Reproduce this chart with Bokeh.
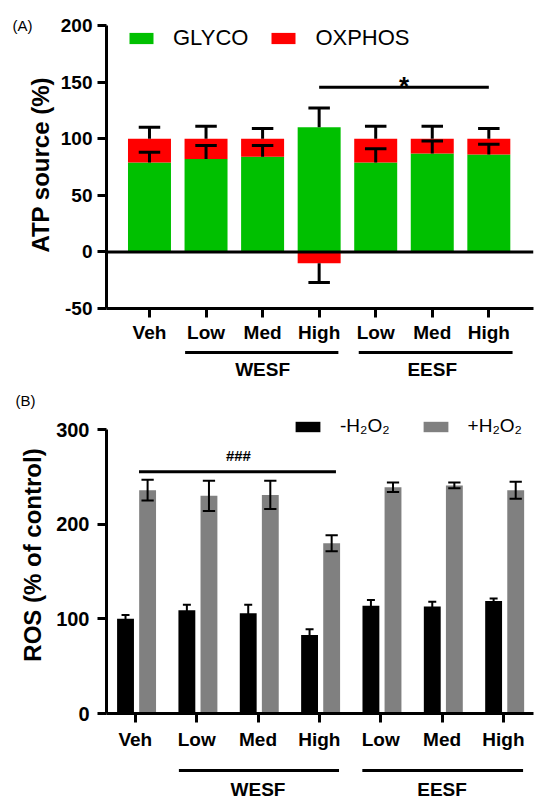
import numpy as np
from bokeh.plotting import figure
from bokeh.models import Range1d, FixedTicker, Span, Label, Legend, LegendItem, LinearAxis
from bokeh.core.properties import value
from bokeh.layouts import column
from bokeh.embed import file_html
from bokeh.resources import INLINE

# ---------------- data ----------------
categories = ["Veh", "Low", "Med", "High", "Low", "Med", "High"]
groups = ["WESF", "EESF"]
group_members = [(1, 3), (4, 6)]

glyco = [79, 82, 84, 110, 79, 87, 86]
glyco_err = [9, 12, 10, 17, 12, 11, 9]
oxphos = [21, 18, 16, -10, 21, 13, 14]
oxphos_err = [10, 11, 9, 17, 11, 11, 9]

ros_minus = [100, 109, 106, 83, 114, 113, 119]
ros_minus_err = [4, 6, 9, 6, 6, 5, 2.5]
ros_plus = [236, 230, 231, 180, 239, 241, 236]
ros_plus_err = [11, 16, 15, 8.5, 5, 3, 9]

yticks_a = [-50, 0, 50, 100, 150, 200]
yticks_b = [0, 100, 200, 300]

FONT = "Liberation Sans"
GREEN = "#00C000"
RED = "#FF0000"
GREY = "#808080"
W = 550


def style_axes(p, ylabel, yticks, tick_size, lab_standoff, ax_standoff, x_standoff):
    p.xaxis.ticker = FixedTicker(ticks=list(range(len(categories))))
    p.xaxis.major_label_overrides = {i: c for i, c in enumerate(categories)}
    p.yaxis.ticker = FixedTicker(ticks=yticks)
    p.yaxis.major_label_overrides = {t: str(t) for t in yticks}
    p.yaxis.axis_label = ylabel
    for ax in (p.xaxis[0], p.yaxis[0]):
        ax.axis_line_width = 3
        ax.axis_line_color = "black"
        ax.major_tick_line_width = 3
        ax.major_tick_line_color = "black"
        ax.major_tick_out = 9
        ax.major_tick_in = 0
        ax.minor_tick_line_color = None
        ax.major_label_text_font = FONT
        ax.major_label_text_font_style = "bold"
        ax.major_label_text_font_size = tick_size
        ax.major_label_text_color = "black"
    p.xaxis.major_label_text_font_size = "19px"
    p.xaxis.major_label_standoff = x_standoff
    p.yaxis.major_label_standoff = lab_standoff
    p.yaxis.axis_label_text_font = FONT
    p.yaxis.axis_label_text_font_style = "bold"
    p.yaxis.axis_label_text_font_size = "24px"
    p.yaxis.axis_label_text_color = "black"
    p.yaxis.axis_label_standoff = ax_standoff
    p.xgrid.grid_line_color = None
    p.ygrid.grid_line_color = None
    p.outline_line_color = None


def panel_tag(p, tag, ypos, standoff):
    ax = LinearAxis(ticker=FixedTicker(ticks=[ypos]), major_label_overrides={ypos: tag},
                    axis_line_color=None, major_tick_line_color=None,
                    minor_tick_line_color=None, major_tick_out=0, major_tick_in=0,
                    major_label_standoff=standoff, major_label_text_font=FONT,
                    major_label_text_font_size="15px", major_label_text_color="black")
    p.add_layout(ax, "left")


def group_fig(xr, height, right, line_y, text_y, extents):
    g = figure(width=W, height=height, x_range=xr, y_range=Range1d(height, 0),
               x_axis_type=None, y_axis_type=None, output_backend="svg",
               toolbar_location=None, min_border_left=106, min_border_right=right,
               min_border_top=0, min_border_bottom=0)
    g.outline_line_color = None
    g.segment(x0=[e[0] for e in extents], y0=[line_y] * len(extents),
              x1=[e[1] for e in extents], y1=[line_y] * len(extents),
              line_color="black", line_width=3)
    g.text(x=[(a + b) / 2 for a, b in group_members], y=[text_y] * len(groups), text=groups,
           text_align="center", text_baseline="middle", text_font=value(FONT),
           text_font_style="bold", text_font_size="19px", text_color="black")
    return g


x = np.arange(len(categories))

# ---------------- panel A ----------------
pa = figure(width=W, height=345, x_range=Range1d(-0.76, 6.79), y_range=Range1d(-50, 209.65),
            output_backend="svg", toolbar_location=None,
            min_border_left=106, min_border_right=17, min_border_top=14, min_border_bottom=35)
style_axes(pa, "ATP source  (%)", yticks_a, "19px", 5, 4, 4)
pa.yaxis.bounds = (-50, 200)
panel_tag(pa, "(A)", 200, -9)

g = np.array(glyco, float)
o = np.array(oxphos, float)
ox_bottom = np.where(o >= 0, g, 0)
ox_top = np.where(o >= 0, g + o, o)

rg = pa.vbar(x=x, width=0.76, bottom=0, top=g, fill_color=GREEN, line_color=None)
rr = pa.vbar(x=x, width=0.76, bottom=ox_bottom, top=ox_top, fill_color=RED, line_color=None)

pa.add_layout(Span(location=0, dimension="width", line_color="black", line_width=3))

ge = g + np.array(glyco_err)
sign = np.where(o >= 0, 1, -1)
oe = ox_top + sign * np.array(oxphos_err)
cw = 0.19
pa.segment(x0=x, y0=g, x1=x, y1=ge, line_color="black", line_width=3)
pa.segment(x0=x - cw, y0=ge, x1=x + cw, y1=ge, line_color="black", line_width=3)
pa.segment(x0=x, y0=ox_top, x1=x, y1=oe, line_color="black", line_width=3)
pa.segment(x0=x - cw, y0=oe, x1=x + cw, y1=oe, line_color="black", line_width=3)

# significance bracket
pa.segment(x0=[3], y0=[145.5], x1=[6], y1=[145.5], line_color="black", line_width=3)
pa.add_layout(Label(x=4.5, y=146.5, text="*", text_align="center", text_baseline="middle",
                    text_font=FONT, text_font_style="bold", text_font_size="26px",
                    text_color="black"))

leg_a = Legend(items=[LegendItem(label="GLYCO", renderers=[rg]),
                      LegendItem(label="OXPHOS", renderers=[rr])],
               orientation="horizontal", location=(20, 257),
               glyph_width=30, glyph_height=14, label_standoff=17, spacing=20,
               padding=0, margin=0, border_line_color=None, background_fill_alpha=0,
               label_text_font=FONT, label_text_font_size="22px", label_text_color="black")
pa.add_layout(leg_a)

ga = group_fig(pa.x_range, 45, 17, 7, 23.5, [(0.63, 3.34), (3.70, 6.42)])

# ---------------- panel B ----------------
pb = figure(width=W, height=362, x_range=Range1d(-0.47, 6.49), y_range=Range1d(0, 335),
            output_backend="svg", toolbar_location=None,
            min_border_left=106, min_border_right=15, min_border_top=6, min_border_bottom=37)
style_axes(pb, "ROS (% of control)", yticks_b, "20px", 8, 7, 6)
pb.yaxis.bounds = (0, 300)
panel_tag(pb, "(B)", 331, -19)

xm = x - 0.16
xp = x + 0.20
bw = 0.275
rm = np.array(ros_minus, float)
rp = np.array(ros_plus, float)
em = np.array(ros_minus_err, float)
ep = np.array(ros_plus_err, float)

bm = pb.vbar(x=xm, width=bw, bottom=0, top=rm, fill_color="black", line_color=None)
bp = pb.vbar(x=xp, width=bw, bottom=0, top=rp, fill_color=GREY, line_color=None)

pb.segment(x0=xm, y0=rm - em, x1=xm, y1=rm + em, line_color="black", line_width=2)
pb.segment(x0=xm - 0.065, y0=rm + em, x1=xm + 0.065, y1=rm + em, line_color="black", line_width=2)
pb.segment(x0=xp, y0=rp - ep, x1=xp, y1=rp + ep, line_color="black", line_width=2)
pb.segment(x0=xp - 0.1, y0=rp + ep, x1=xp + 0.1, y1=rp + ep, line_color="black", line_width=2)
pb.segment(x0=xp - 0.1, y0=rp - ep, x1=xp + 0.1, y1=rp - ep, line_color="black", line_width=2)

pb.segment(x0=[0.06], y0=[255.5], x1=[3.27], y1=[255.5], line_color="black", line_width=3)
pb.add_layout(Label(x=1.68, y=273, text="###", text_align="center", text_baseline="middle",
                    text_font=FONT, text_font_style="bold", text_font_size="15px",
                    text_color="black"))

leg_b = Legend(items=[LegendItem(label="-H\u2082O\u2082", renderers=[bm]),
                      LegendItem(label="+H\u2082O\u2082", renderers=[bp])],
               orientation="horizontal", location=(186, 276),
               glyph_width=31, glyph_height=13, label_standoff=17, spacing=30,
               padding=0, margin=0, border_line_color=None, background_fill_alpha=0,
               label_text_font=FONT, label_text_font_size="19px", label_text_color="black")
pb.add_layout(leg_b)

gb = group_fig(pb.x_range, 53, 15, 18, 37, [(0.71, 3.32), (3.70, 6.32)])

layout = column(pa, ga, pb, gb, spacing=0)
open("out.html", "w").write(file_html(layout, INLINE))
